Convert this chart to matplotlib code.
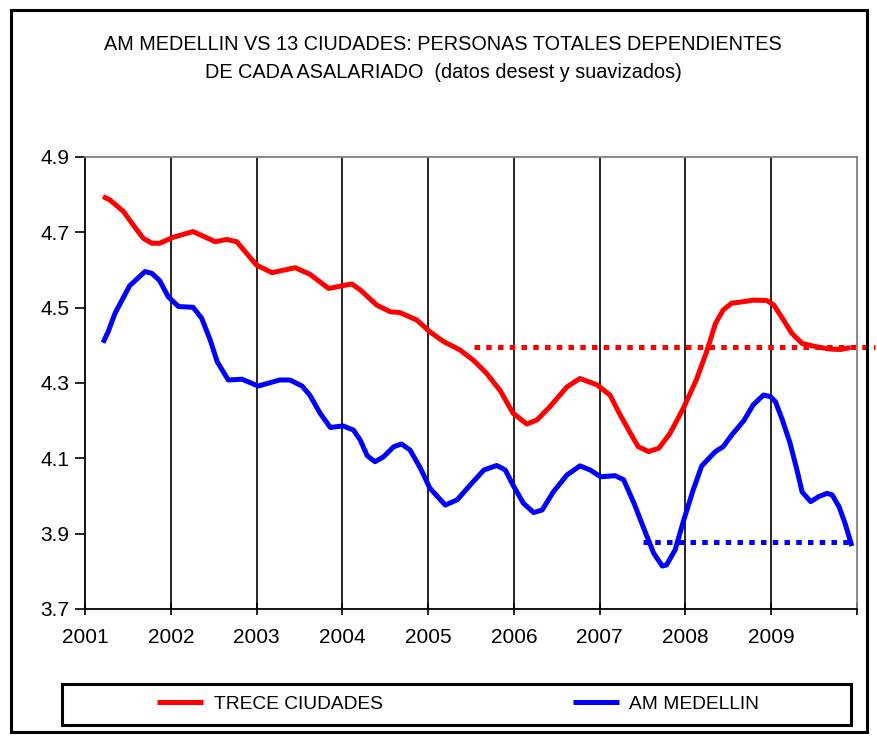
import matplotlib
matplotlib.use("Agg")
import matplotlib.pyplot as plt
from matplotlib.patches import Rectangle

plt.rcParams['font.family'] = ['Liberation Sans', 'DejaVu Sans']

# data (fractional year, value)
trece_x = [2001.21, 2001.29, 2001.45, 2001.56, 2001.68, 2001.78, 2001.87,
           2002.03, 2002.26, 2002.52, 2002.65, 2002.77,
           2003.00, 2003.18, 2003.45, 2003.62, 2003.84,
           2004.11, 2004.21, 2004.40, 2004.56, 2004.67, 2004.87,
           2005.02, 2005.18, 2005.37, 2005.53, 2005.68, 2005.84, 2005.99,
           2006.15, 2006.27, 2006.42, 2006.62, 2006.77, 2006.97,
           2007.12, 2007.24, 2007.36, 2007.45, 2007.57, 2007.69, 2007.82, 2007.98,
           2008.13, 2008.25, 2008.35, 2008.44, 2008.54, 2008.68, 2008.79, 2008.95,
           2009.03, 2009.13, 2009.24, 2009.36, 2009.53, 2009.69, 2009.81, 2009.92]
trece_y = [4.795, 4.786, 4.755, 4.72, 4.684, 4.671, 4.671,
           4.687, 4.702, 4.675, 4.681, 4.675,
           4.613, 4.593, 4.606, 4.589, 4.551,
           4.563, 4.547, 4.507, 4.489, 4.487, 4.467,
           4.436, 4.41, 4.388, 4.36, 4.326, 4.28, 4.22,
           4.191, 4.202, 4.237, 4.29, 4.312, 4.295,
           4.268, 4.215, 4.166, 4.131, 4.118, 4.127, 4.166, 4.235,
           4.31, 4.385, 4.458, 4.494, 4.512, 4.516, 4.52, 4.519,
           4.507, 4.472, 4.432, 4.405, 4.396, 4.39, 4.389, 4.394]

medellin_x = [2001.21, 2001.27, 2001.35, 2001.52, 2001.70, 2001.78, 2001.87, 2001.97,
              2002.09, 2002.26, 2002.36, 2002.46, 2002.54, 2002.67, 2002.83,
              2003.02, 2003.27, 2003.39, 2003.53, 2003.62, 2003.74, 2003.86,
              2004.01, 2004.13, 2004.21, 2004.29, 2004.38, 2004.48, 2004.60, 2004.69, 2004.79, 2004.91,
              2005.02, 2005.20, 2005.34, 2005.49, 2005.65, 2005.80, 2005.90, 2005.99,
              2006.11, 2006.23, 2006.33, 2006.46, 2006.62, 2006.77, 2006.89,
              2007.01, 2007.18, 2007.28, 2007.40, 2007.53, 2007.63, 2007.73, 2007.78, 2007.88, 2007.98,
              2008.09, 2008.19, 2008.35, 2008.44, 2008.54, 2008.68, 2008.79, 2008.91, 2008.99,
              2009.05, 2009.13, 2009.22, 2009.30, 2009.36, 2009.46, 2009.55, 2009.65, 2009.71,
              2009.79, 2009.86, 2009.94]
medellin_y = [4.407, 4.436, 4.485, 4.558, 4.596, 4.591, 4.572, 4.529,
              4.503, 4.501, 4.472, 4.414, 4.357, 4.308, 4.31,
              4.292, 4.308, 4.308, 4.292, 4.268, 4.22, 4.182,
              4.186, 4.175, 4.148, 4.107, 4.091, 4.104, 4.131, 4.138, 4.122, 4.074,
              4.021, 3.976, 3.99, 4.029, 4.069, 4.081, 4.069, 4.029,
              3.981, 3.956, 3.963, 4.011, 4.056, 4.08, 4.069,
              4.051, 4.054, 4.043, 3.981, 3.905, 3.848, 3.814, 3.817, 3.857, 3.936,
              4.016, 4.08, 4.118, 4.131, 4.162, 4.2, 4.242, 4.268, 4.264,
              4.25, 4.202, 4.14, 4.069, 4.011, 3.985, 3.998, 4.007, 4.003,
              3.972, 3.928, 3.867]

# dotted reference levels
trece_ref = 4.396
trece_ref_span = [2005.53, 2010.21]
medellin_ref = 3.877
medellin_ref_span = [2007.51, 2009.96]

years = [2001, 2002, 2003, 2004, 2005, 2006, 2007, 2008, 2009, 2010]
year_labels = ['2001', '2002', '2003', '2004', '2005', '2006', '2007', '2008', '2009', '']
y_ticks = [3.7, 3.9, 4.1, 4.3, 4.5, 4.7, 4.9]

W, H = 877, 738
fig = plt.figure(figsize=(W / 100, H / 100), dpi=100)
ax = fig.add_axes([85 / W, 129 / H, 772 / W, 452 / H])

# yearly vertical gridlines (inner ones only)
for yr in years[1:-1]:
    ax.axvline(yr, color='black', lw=1.2, zorder=1)

lw = 3.6
l1, = ax.plot(trece_x, trece_y, color='#FF0000', lw=lw, zorder=3,
              solid_joinstyle='round', solid_capstyle='butt')
l2, = ax.plot(medellin_x, medellin_y, color='#0000FF', lw=lw, zorder=3,
              solid_joinstyle='round', solid_capstyle='butt')
ax.plot(trece_ref_span, [trece_ref, trece_ref], color='#FF0000', lw=lw,
        linestyle=(0, (1.1, 1.25)), clip_on=False, zorder=4)
ax.plot(medellin_ref_span, [medellin_ref, medellin_ref], color='#0000FF', lw=lw,
        linestyle=(0, (1.1, 1.25)), clip_on=False, zorder=4)

ax.set_xlim(2001, 2010)
ax.set_ylim(3.7, 4.9)
ax.set_xticks(years)
ax.set_xticklabels(year_labels)
ax.set_yticks(y_ticks)
ax.set_yticklabels([f'{v:.1f}' for v in y_ticks])

for side in ['left', 'bottom']:
    ax.spines[side].set_color('black')
    ax.spines[side].set_linewidth(1.3)
for side in ['top', 'right']:
    ax.spines[side].set_color('#808080')
    ax.spines[side].set_linewidth(1.3)

ax.tick_params(axis='x', direction='inout', length=8.6, width=1.2, pad=9.5,
               labelsize=15, colors='black')
ax.tick_params(axis='y', direction='out', length=7, width=1.2, pad=4.5,
               labelsize=15, colors='black')

fig.text(443 / W, 1 - 45 / H,
         'AM MEDELLIN VS 13 CIUDADES: PERSONAS TOTALES DEPENDIENTES',
         ha='center', va='center', fontsize=14.3)
fig.text(443 / W, 1 - 73 / H,
         'DE CADA ASALARIADO  (datos desest y suavizados)',
         ha='center', va='center', fontsize=14.3)

# legend with its own box
fig.legend([l1, l2], ['TRECE CIUDADES', 'AM MEDELLIN'], ncol=2, mode='expand',
           loc='center', bbox_to_anchor=(157 / W, 24 / H, 602 / W, 20 / H),
           frameon=False, fontsize=13.8, handlelength=2.4, handletextpad=0.55,
           borderpad=0, borderaxespad=0)
fig.patches.append(Rectangle((62 / W, 13 / H), 789 / W, 41 / H, transform=fig.transFigure,
                             fill=False, edgecolor='black', lw=2.2))
# outer chart border
fig.patches.append(Rectangle((11 / W, 6 / H), 856 / W, 722 / H, transform=fig.transFigure,
                             fill=False, edgecolor='black', lw=2.2))

fig.savefig('out.png', dpi=100, facecolor='white')
